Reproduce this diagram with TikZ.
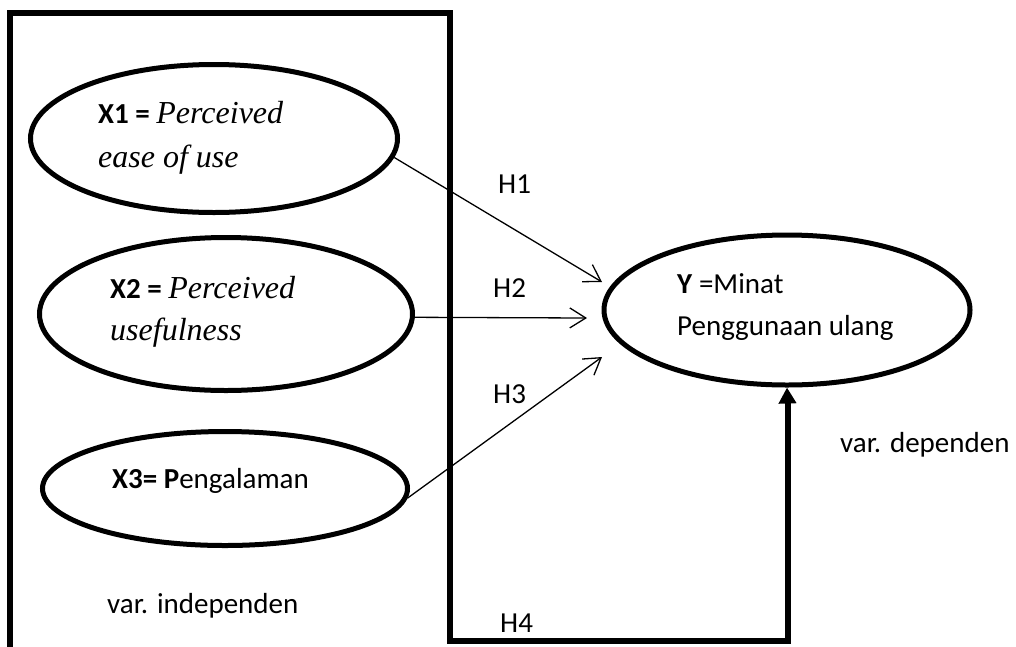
\documentclass[tikz,border=0pt]{standalone}
\usepackage{fontspec}
\setmainfont{Carlito}
\newfontfamily\tnr{Liberation Serif}
\usetikzlibrary{arrows.meta,shapes.geometric}
\begin{document}
\begin{tikzpicture}[x=1pt,y=1pt,
  ell/.style={draw, ellipse, line width=5pt, inner sep=0pt},
  lbl/.style={anchor=base west, inner sep=0pt, font=\fontsize{29}{33}\selectfont},
  it/.style={},
  thin/.style={line width=1.3pt, -{Straight Barb[length=16pt,width=20pt,line width=1.3pt]}},
  frame/.style={line width=6pt}]
\useasboundingbox (0,0) rectangle (1016,-646);
% ellipses
\node[ell, minimum width=367, minimum height=148] (x1) at (214,-138.5) {};
\node[ell, minimum width=373, minimum height=153] (x2) at (226,-314) {};
\node[ell, minimum width=365, minimum height=114] (x3) at (225,-488.5) {};
\node[ell, minimum width=366, minimum height=150] (y) at (787,-310) {};
% texts
\node[lbl] (t1a) at (98,-123) {\textbf{X1 =} {\tnr\itshape\fontsize{32}{36}\selectfont Perceived}};
\node[lbl] (t1b) at (98,-167) {\tnr\itshape\fontsize{32}{36}\selectfont ease of use};
\node[lbl] (t2a) at (110,-298) {\textbf{X2 =} {\tnr\itshape\fontsize{32}{36}\selectfont Perceived}};
\node[lbl] (t2b) at (110,-340) {\tnr\itshape\fontsize{32}{36}\selectfont usefulness};
\node[lbl] (t3) at (112,-488) {\textbf{X3= P}engalaman};
\node[lbl] (ty1) at (677,-293) {\textbf{Y} =Minat};
\node[lbl] (ty2) at (677,-335) {Penggunaan ulang};
\node[lbl] (h1) at (498,-193) {H1};
\node[lbl] (h2) at (493,-297) {H2};
\node[lbl] (h3) at (493,-403) {H3};
\node[lbl] (h4) at (500,-632) {H4};
\node[lbl] (vd) at (840,-452) {var. dependen};
\node[lbl] (vi) at (107,-613) {var. independen};
% arrow ends
\coordinate (e1) at (602,-282);
\coordinate (e2) at (587,-318);
\coordinate (e3) at (602,-357);
\draw[thin] (x1.-6) -- (e1);
\draw[thin] (x2.-1) -- (e2);
\draw[thin] (x3.-3) -- (e3);
% frame and H4 path
\draw[frame, line join=miter] (10,-660) -- (10,-13) -- (450,-13) -- (450,-641) -- (788,-641)
  -- (788,-400);
\draw[line width=5pt, -{Triangle[length=16pt,width=17pt]}] (788,-420) -- (y.south);
\end{tikzpicture}
\end{document}
